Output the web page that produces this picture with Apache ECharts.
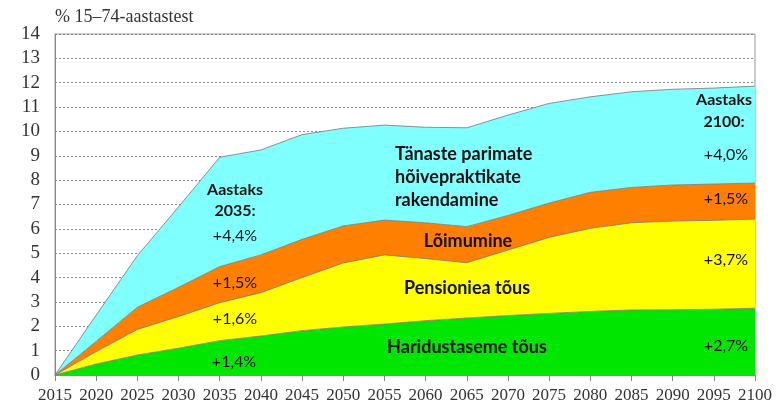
<!DOCTYPE html>
<html>
<head>
<meta charset="utf-8">
<script src="https://cdn.jsdelivr.net/npm/echarts@6/dist/echarts.min.js"></script>
<style>
  html, body { margin: 0; padding: 0; background: #fff; }
  #chart { width: 779px; height: 405px; }
</style>
</head>
<body>
<div id="chart"></div>
<script>
// aastad
const years = ['2015', '2020', '2025', '2030', '2035', '2040', '2045', '2050', '2055',
  '2060', '2065', '2070', '2075', '2080', '2085', '2090', '2095', '2100'];

// panused, protsendipunkti (virnastatud)
const haridus = [0, 0.45, 0.82, 1.1, 1.41, 1.6, 1.82, 1.97, 2.09, 2.23, 2.34, 2.44, 2.53, 2.61, 2.67, 2.68, 2.7, 2.74];
const pension = [0, 0.51, 1.05, 1.3, 1.56, 1.78, 2.18, 2.63, 2.84, 2.55, 2.27, 2.69, 3.12, 3.41, 3.58, 3.64, 3.65, 3.66];
const loimumine = [0, 0.42, 0.91, 1.2, 1.48, 1.55, 1.57, 1.52, 1.43, 1.47, 1.48, 1.42, 1.41, 1.48, 1.45, 1.48, 1.49, 1.48];
const praktikad = [0, 1.08, 2.12, 3.3, 4.49, 4.31, 4.3, 4.01, 3.9, 3.92, 4.06, 4.12, 4.09, 3.92, 3.93, 3.93, 3.94, 3.98];

const serif = '"Liberation Serif", "DejaVu Serif", serif';
const sans = 'Lato, "Open Sans", sans-serif';

const chart = echarts.init(document.getElementById('chart'));

function area(name, data, color) {
  return {
    name: name,
    type: 'line',
    stack: 'kokku',
    data: data,
    symbol: 'none',
    lineStyle: { color: '#777', width: 0.8 },
    areaStyle: { color: color, opacity: 1 },
    z: 2
  };
}

// tekstid joonisel (x, y = keskpunkt)
function txt(x, y, text, opts) {
  return {
    type: 'text', x: x, y: y, z: 10,
    style: Object.assign({
      text: text, font: '16px ' + sans, fill: '#111',
      align: 'center', verticalAlign: 'middle', lineHeight: 22
    }, opts || {})
  };
}
const bold = { font: 'bold 18px ' + sans, lineHeight: 22 };

const option = {
  animation: false,
  grid: { left: 55, right: 24, top: 34, bottom: 30, show: true, borderColor: '#999', borderWidth: 1 },
  xAxis: {
    type: 'category',
    data: years,
    boundaryGap: false,
    axisLine: { lineStyle: { color: '#888' } },
    axisTick: { show: true, length: 6, interval: 0, lineStyle: { color: '#888' } },
    axisLabel: { fontFamily: serif, fontSize: 17, color: '#333', margin: 12, interval: 0, hideOverlap: false },
    splitLine: { show: false }
  },
  yAxis: {
    type: 'value',
    min: 0, max: 14, interval: 1,
    axisLine: { show: true, lineStyle: { color: '#888' } },
    axisTick: { show: false },
    axisLabel: { fontFamily: serif, fontSize: 19, color: '#333', margin: 15 },
    splitLine: { lineStyle: { color: '#888', type: [2, 2] } }
  },
  series: [
    area('Haridustaseme tõus', haridus, '#00e600'),
    area('Pensioniea tõus', pension, '#ffff00'),
    area('Lõimumine', loimumine, '#ff8000'),
    area('Tänaste parimate hõivepraktikate rakendamine', praktikad, '#80ffff')
  ],
  graphic: [
    txt(55, 17, '% 15–74-aastastest', { font: '18px ' + serif, fill: '#333', align: 'left' }),
    txt(235, 200, 'Aastaks\n2035:', { font: 'bold 16px ' + sans, lineHeight: 21 }),
    txt(235, 236, '+4,4%'),
    txt(235, 283, '+1,5%'),
    txt(235, 319, '+1,6%'),
    txt(234, 362, '+1,4%'),
    txt(395, 177, 'Tänaste parimate\nhõivepraktikate\nrakendamine', { font: 'bold 18px ' + sans, align: 'left', lineHeight: 23 }),
    txt(468, 241, 'Lõimumine', bold),
    txt(467, 288, 'Pensioniea tõus', bold),
    txt(467, 347, 'Haridustaseme tõus', bold),
    txt(724, 111, 'Aastaks\n2100:', { font: 'bold 16px ' + sans, lineHeight: 22 }),
    txt(726, 155, '+4,0%'),
    txt(726, 199, '+1,5%'),
    txt(726, 260, '+3,7%'),
    txt(726, 346, '+2,7%')
  ]
};

chart.setOption(option);
</script>
</body>
</html>
